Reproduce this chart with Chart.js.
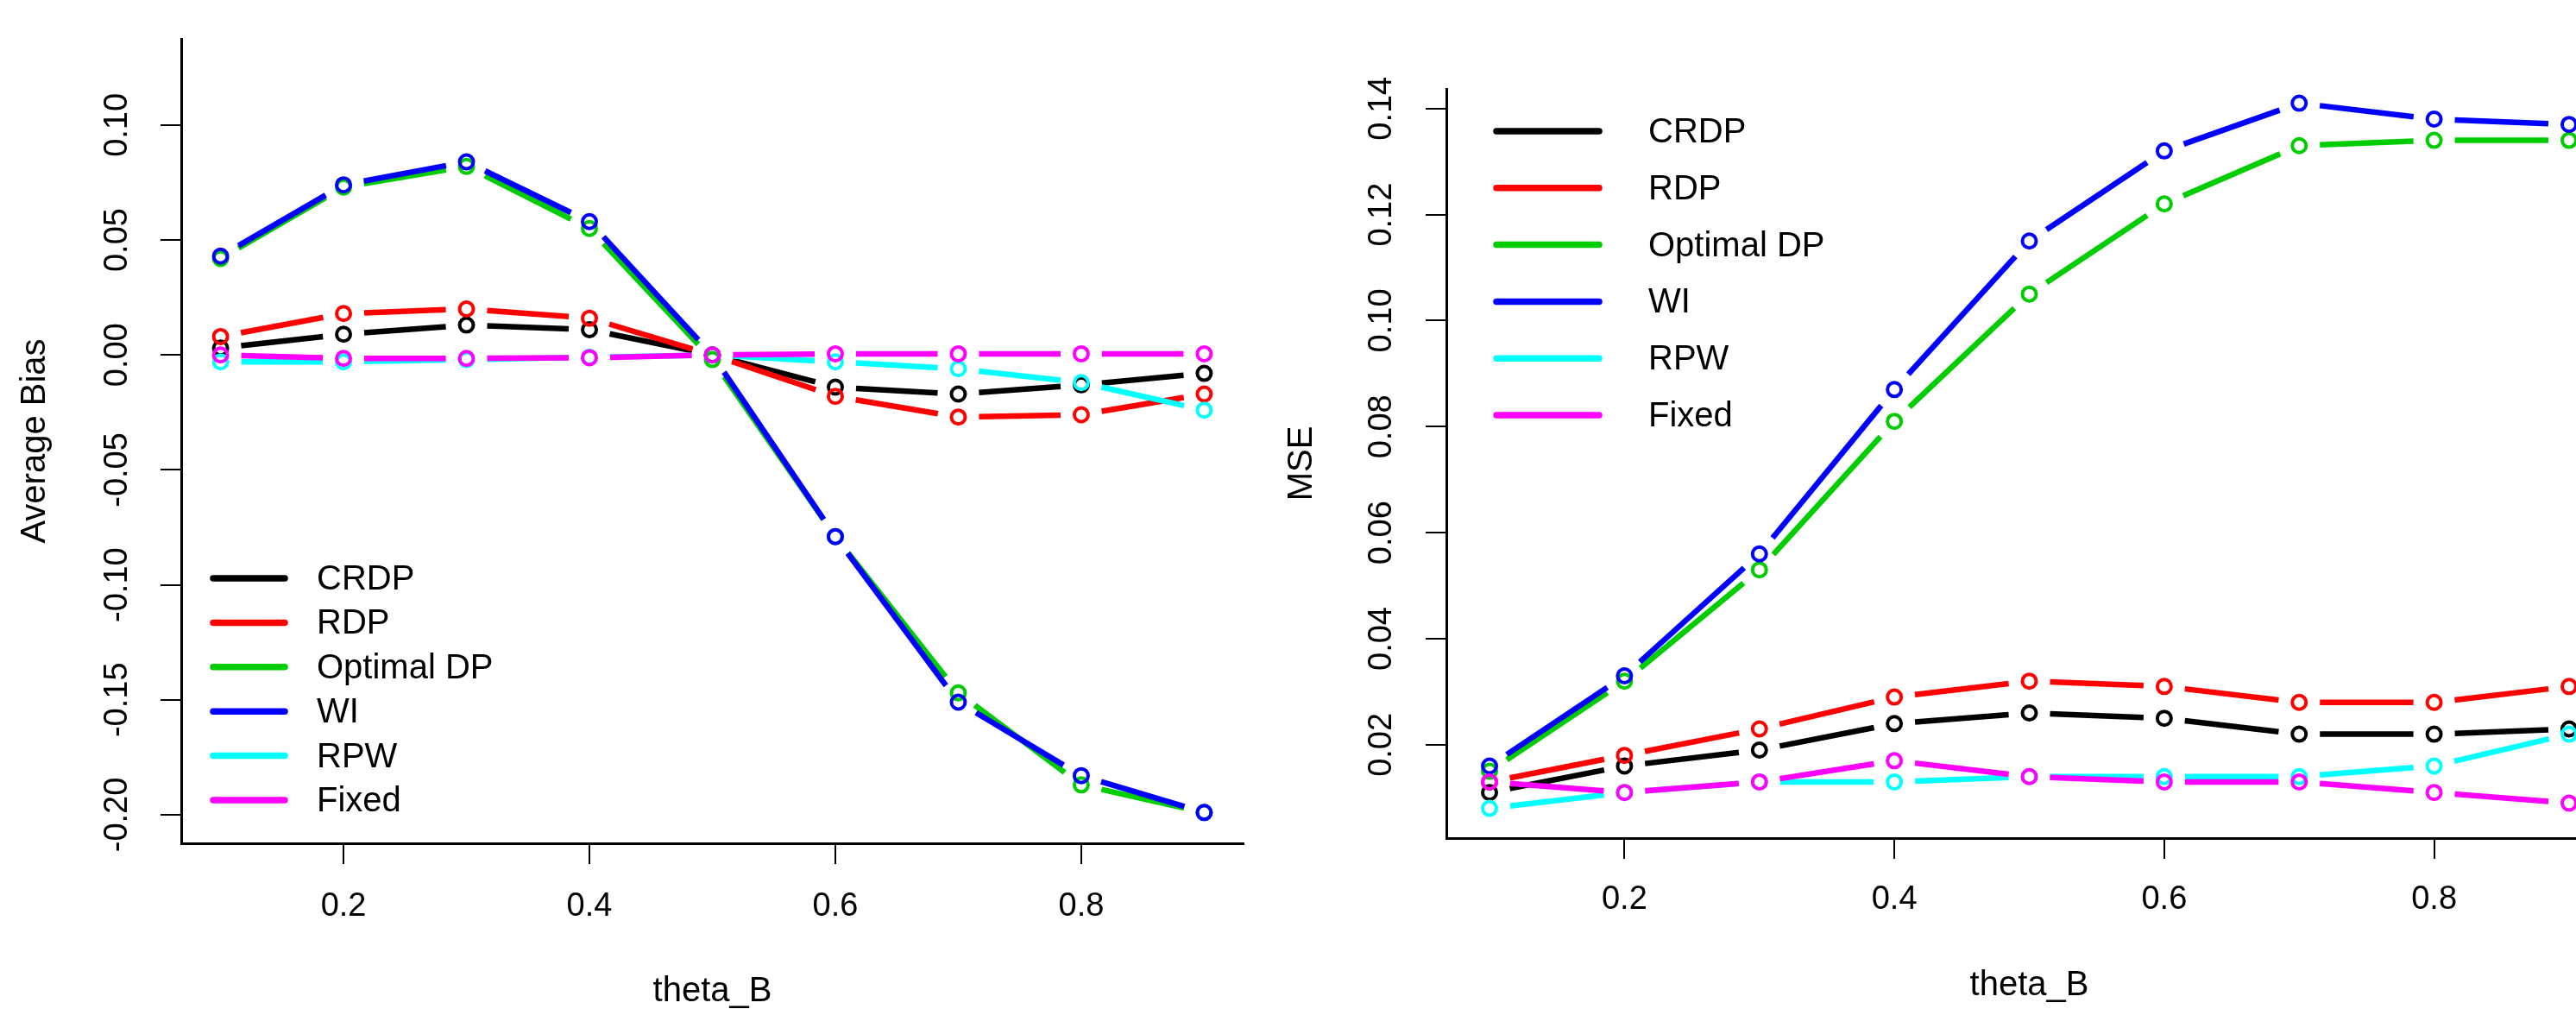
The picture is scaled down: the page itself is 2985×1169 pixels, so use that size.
<!DOCTYPE html>
<html>
<head>
<meta charset="utf-8">
<script src="https://cdn.jsdelivr.net/npm/chart.js@4.4.1/dist/chart.umd.min.js"></script>
<style>
  html, body { margin: 0; padding: 0; background: #fff; overflow: hidden; }
  body { width: 2985px; height: 1169px; position: relative; }
  .panel { position: absolute; top: 0; height: 1169px; }
  #biasBox { left: 0; width: 1480px; }
  #mseBox { left: 1480px; width: 1600px; }
</style>
</head>
<body>
<div class="panel" id="biasBox"><canvas id="biasChart"></canvas></div>
<div class="panel" id="mseBox"><canvas id="mseChart"></canvas></div>
<script>
// theta_B values
const thetaB = [0.1, 0.2, 0.3, 0.4, 0.5, 0.6, 0.7, 0.8, 0.9];

const seriesNames = ['CRDP', 'RDP', 'Optimal DP', 'WI', 'RPW', 'Fixed'];
const seriesColors = ['#000000', '#FF0000', '#00CD00', '#0000FF', '#00FFFF', '#FF00FF'];

// Average Bias (left panel)
const biasCRDP    = [0.003, 0.009, 0.013, 0.011, 0.000, -0.014, -0.017, -0.013, -0.008];
const biasRDP     = [0.008, 0.018, 0.020, 0.016, 0.000, -0.018, -0.027, -0.026, -0.017];
const biasOptDP   = [0.042, 0.073, 0.082, 0.055, -0.002, -0.079, -0.147, -0.187, -0.199];
const biasWI      = [0.043, 0.074, 0.084, 0.058, 0.000, -0.079, -0.151, -0.183, -0.199];
const biasRPW     = [-0.003, -0.003, -0.002, -0.001, 0.000, -0.003, -0.006, -0.012, -0.024];
const biasFixed   = [0.000, -0.0015, -0.0015, -0.0012, 0.000, 0.0005, 0.0005, 0.0005, 0.0005];

// MSE (right panel)
const mseCRDP  = [0.011, 0.016, 0.019, 0.024, 0.026, 0.025, 0.022, 0.022, 0.023];
const mseRDP   = [0.013, 0.018, 0.023, 0.029, 0.032, 0.031, 0.028, 0.028, 0.031];
const mseOptDP = [0.015, 0.032, 0.053, 0.081, 0.105, 0.122, 0.133, 0.134, 0.134];
const mseWI    = [0.016, 0.033, 0.056, 0.087, 0.115, 0.132, 0.141, 0.138, 0.137];
const mseRPW   = [0.008, 0.011, 0.013, 0.013, 0.014, 0.014, 0.014, 0.016, 0.022];
const mseFixed = [0.013, 0.011, 0.013, 0.017, 0.014, 0.013, 0.013, 0.011, 0.009];

// tick labels
const xTicks = [0.2, 0.4, 0.6, 0.8];
const biasTicks = [-0.20, -0.15, -0.10, -0.05, 0.00, 0.05, 0.10];
const mseTicks = [0.02, 0.04, 0.06, 0.08, 0.10, 0.12, 0.14];

const FONT = '"Liberation Sans", Arial, sans-serif';
const LINE_W = 6.5;
const GAP = 24;

function makeDatasets(lists) {
  return lists.map(function (vals, i) {
    return {
      label: seriesNames[i],
      data: thetaB.map(function (t, k) { return { x: t, y: vals[k] }; }),
      borderColor: seriesColors[i],
      backgroundColor: seriesColors[i],
      showLine: false,
      pointRadius: 8,
      pointBorderWidth: 4,
      pointBackgroundColor: 'rgba(255,255,255,0)',
      pointBorderColor: seriesColors[i],
      order: lists.length - i
    };
  });
}

// R type="b": line segments that stop short of each point
const gappedLines = {
  id: 'gappedLines',
  beforeDatasetDraw(chart, args) {
    const pts = args.meta.data;
    const ds = chart.data.datasets[args.index];
    const ctx = chart.ctx;
    ctx.save();
    ctx.strokeStyle = ds.borderColor;
    ctx.lineWidth = LINE_W;
    ctx.lineCap = 'butt';
    for (let k = 0; k < pts.length - 1; k++) {
      const a = pts[k], b = pts[k + 1];
      const dx = b.x - a.x, dy = b.y - a.y;
      const len = Math.sqrt(dx * dx + dy * dy);
      if (len <= 2 * GAP) continue;
      const ux = dx / len, uy = dy / len;
      ctx.beginPath();
      ctx.moveTo(a.x + ux * GAP, a.y + uy * GAP);
      ctx.lineTo(b.x - ux * GAP, b.y - uy * GAP);
      ctx.stroke();
    }
    ctx.restore();
  }
};

// R-style vertical y tick labels
const sideLabels = {
  id: 'sideLabels',
  afterDraw(chart, args, opts) {
    const s = chart.scales.y;
    const ctx = chart.ctx;
    ctx.save();
    ctx.font = '38px ' + FONT;
    ctx.fillStyle = '#000';
    ctx.textAlign = 'center';
    ctx.textBaseline = 'middle';
    opts.ticks.forEach(function (v) {
      const y = s.getPixelForValue(v);
      ctx.save();
      ctx.translate(s.right - opts.offset, y);
      ctx.rotate(-Math.PI / 2);
      ctx.fillText(v.toFixed(2), 0, 0);
      ctx.restore();
    });
    ctx.restore();
  }
};

// legend drawn inside the plot, like R's legend()
const rLegend = {
  id: 'rLegend',
  afterDraw(chart, args, opts) {
    const ctx = chart.ctx;
    ctx.save();
    ctx.font = '40px ' + FONT;
    ctx.textAlign = 'left';
    ctx.textBaseline = 'middle';
    chart.data.datasets.forEach(function (ds, i) {
      const y = opts.top + i * opts.step;
      ctx.strokeStyle = ds.borderColor;
      ctx.lineWidth = 7.5;
      ctx.lineCap = 'round';
      ctx.beginPath();
      ctx.moveTo(opts.x0, y);
      ctx.lineTo(opts.x1, y);
      ctx.stroke();
      ctx.fillStyle = '#000';
      ctx.fillText(ds.label, opts.tx, y + 2);
    });
    ctx.restore();
  }
};

function makeChart(id, lists, cfg) {
  return new Chart(document.getElementById(id), {
    type: 'line',
    data: { datasets: makeDatasets(lists) },
    plugins: [gappedLines, sideLabels, rLegend],
    options: {
      responsive: true,
      maintainAspectRatio: false,
      animation: false,
      layout: { padding: { top: cfg.padTop, right: cfg.padRight, bottom: 0, left: 0 } },
      plugins: {
        legend: { display: false },
        tooltip: { enabled: false },
        sideLabels: { ticks: cfg.yTicks, offset: cfg.yLabelOffset },
        rLegend: cfg.legend
      },
      scales: {
        x: {
          type: 'linear',
          min: 0.068,
          max: 0.932,
          afterBuildTicks: function (s) { s.ticks = xTicks.map(function (v) { return { value: v }; }); },
          afterFit: function (s) { s.height = cfg.xHeight; },
          ticks: {
            color: '#000',
            font: { family: FONT, size: 38 },
            padding: cfg.xTickPad,
            maxRotation: 0,
            callback: function (v) { return Number(v).toFixed(1); }
          },
          grid: { display: true, drawOnChartArea: false, drawTicks: true, tickLength: 24, color: '#000', lineWidth: 2 },
          border: { display: true, color: '#000', width: 3 },
          title: {
            display: true, text: 'theta_B', color: '#000',
            font: { family: FONT, size: 40, lineHeight: 1 },
            padding: { top: cfg.xTitlePad, bottom: cfg.xTitlePad }
          }
        },
        y: {
          type: 'linear',
          min: cfg.yMin,
          max: cfg.yMax,
          afterBuildTicks: function (s) { s.ticks = cfg.yTicks.map(function (v) { return { value: v }; }); },
          afterFit: function (s) { s.width = cfg.yWidth; },
          ticks: { display: false },
          grid: { display: true, drawOnChartArea: false, drawTicks: true, tickLength: 24, color: '#000', lineWidth: 2 },
          border: { display: true, color: '#000', width: 3 },
          title: {
            display: true, text: cfg.yTitle, color: '#000',
            font: { family: FONT, size: 40, lineHeight: 1 },
            padding: { top: cfg.yTitlePad, bottom: cfg.yTitlePad }
          }
        }
      }
    }
  });
}

makeChart('biasChart', [biasCRDP, biasRDP, biasOptDP, biasWI, biasRPW, biasFixed], {
  padTop: 45, padRight: 39, xHeight: 192, yWidth: 210,
  yMin: -0.2124, yMax: 0.1375, yTicks: biasTicks, yLabelOffset: 73,
  xTickPad: 27, xTitlePad: 0, yTitlePad: 21, yTitle: 'Average Bias',
  legend: { x0: 247, x1: 330, tx: 367, top: 670, step: 51.4 }
});

makeChart('mseChart', [mseCRDP, mseRDP, mseOptDP, mseWI, mseRPW, mseFixed], {
  padTop: 103, padRight: 53, xHeight: 198, yWidth: 196,
  yMin: 0.0024, yMax: 0.1437, yTicks: mseTicks, yLabelOffset: 74,
  xTickPad: 25, xTitlePad: 7, yTitlePad: 9, yTitle: 'MSE',
  legend: { x0: 254, x1: 373, tx: 430, top: 152, step: 65.8 }
});
</script>
</body>
</html>
